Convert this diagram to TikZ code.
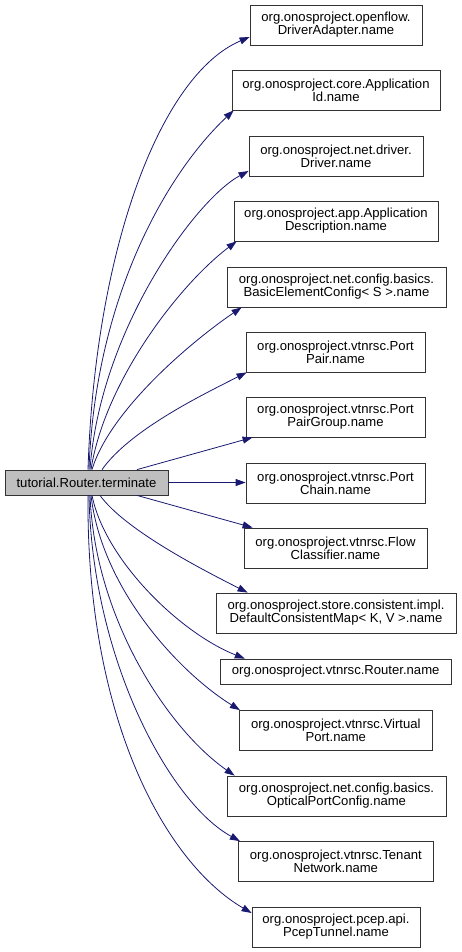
\documentclass[tikz,border=0pt]{standalone}
\usepackage{fontspec}
\setmainfont{Liberation Sans}
\usetikzlibrary{arrows.meta}
\definecolor{edgeblue}{RGB}{25,25,112}
\definecolor{mainfill}{RGB}{191,191,191}
\begin{document}
\begin{tikzpicture}[x=1pt,y=-1pt,
  box/.style={draw=black!80, line width=0.8pt, fill=white, inner sep=0pt, align=center,
    font=\fontsize{13.1}{13.2}\selectfont, minimum height=40pt},
  edge/.style={draw=edgeblue, line width=0.8pt, -{Triangle[length=10pt,width=7pt]}}]
\useasboundingbox (0,0) rectangle (461,952);
\node[box, fill=mainfill, minimum width=163pt, minimum height=25pt] (main) at (86.5,482.5) {tutorial.Router.terminate};
\node[box, minimum width=172pt] (n1) at (336,25) {org.onosproject.openflow.\\DriverAdapter.name};
\node[box, minimum width=208pt] (n2) at (336,90) {org.onosproject.core.Application\\Id.name};
\node[box, minimum width=174pt] (n3) at (336,156) {org.onosproject.net.driver.\\Driver.name};
\node[box, minimum width=204pt] (n4) at (336,221) {org.onosproject.app.Application\\Description.name};
\node[box, minimum width=219pt] (n5) at (336.5,287) {org.onosproject.net.config.basics.\\BasicElementConfig< S >.name};
\node[box, minimum width=179pt] (n6) at (335.5,352) {org.onosproject.vtnrsc.Port\\Pair.name};
\node[box, minimum width=179pt] (n7) at (335.5,417) {org.onosproject.vtnrsc.Port\\PairGroup.name};
\node[box, minimum width=179pt] (n8) at (335.5,483) {org.onosproject.vtnrsc.Port\\Chain.name};
\node[box, minimum width=183pt] (n9) at (335.5,548) {org.onosproject.vtnrsc.Flow\\Classifier.name};
\node[box, minimum width=240pt] (n10) at (336,613) {org.onosproject.store.consistent.impl.\\DefaultConsistentMap< K, V >.name};
\node[box, minimum width=231pt, minimum height=25pt] (n11) at (335.7,671.5) {org.onosproject.vtnrsc.Router.name};
\node[box, minimum width=193pt] (n12) at (335.8,730.5) {org.onosproject.vtnrsc.Virtual\\Port.name};
\node[box, minimum width=219pt] (n13) at (336.5,796) {org.onosproject.net.config.basics.\\OpticalPortConfig.name};
\node[box, minimum width=195pt] (n14) at (335.8,861.5) {org.onosproject.vtnrsc.Tenant\\Network.name};
\node[box, minimum width=168pt] (n15) at (336,927) {org.onosproject.pcep.api.\\PcepTunnel.name};
% upper edges
\draw[edge] ([shift={(1.5,0)}]main.north) .. controls (95,250) and (160,75) .. ([shift={(0,12)}]n1.west);
\draw[edge] ([shift={(2.5,0)}]main.north) .. controls (95,300) and (165,175) .. ([shift={(2,0)}]n2.south west);
\draw[edge] ([shift={(3.5,0)}]main.north) .. controls (100,330) and (196,199) .. ([shift={(0,15)}]n3.west);
\draw[edge] ([shift={(4.5,0)}]main.north) .. controls (105,380) and (181,283) .. ([shift={(3,0)}]n4.south west);
\draw[edge] ([shift={(5.5,0)}]main.north) .. controls (110,410) and (192,341) .. ([shift={(15,0)}]n5.south west);
\draw[edge] ([shift={(15.5,0)}]main.north) .. controls (130,430) and (202,395) .. ([shift={(1,0)}]n6.south west);
\draw[edge] ([shift={(50.5,0)}]main.north) -- ([shift={(7,0)}]n7.south west);
\draw[edge] (main.east) -- (main.east -| n8.west);
% lower edges
\draw[edge] ([shift={(50.5,0)}]main.south) -- ([shift={(9,0)}]n9.north west);
\draw[edge] ([shift={(13.5,0)}]main.south) .. controls (125,530) and (203,570) .. ([shift={(32,0)}]n10.north west);
\draw[edge] ([shift={(5.5,0)}]main.south) .. controls (105,560) and (180,633) .. ([shift={(25,0)}]n11.north west);
\draw[edge] ([shift={(4.5,0)}]main.south) .. controls (102,590) and (180,673) .. ([shift={(1,0)}]n12.north west);
\draw[edge] ([shift={(3.5,0)}]main.south) .. controls (95,620) and (169,730) .. ([shift={(8,0)}]n13.north west);
\draw[edge] ([shift={(2.5,0)}]main.south) .. controls (92,660) and (170,803) .. ([shift={(2,0)}]n14.north west);
\draw[edge] ([shift={(1.5,0)}]main.south) .. controls (86,720) and (166,863) .. ([shift={(0,-14)}]n15.west);
\end{tikzpicture}
\end{document}
